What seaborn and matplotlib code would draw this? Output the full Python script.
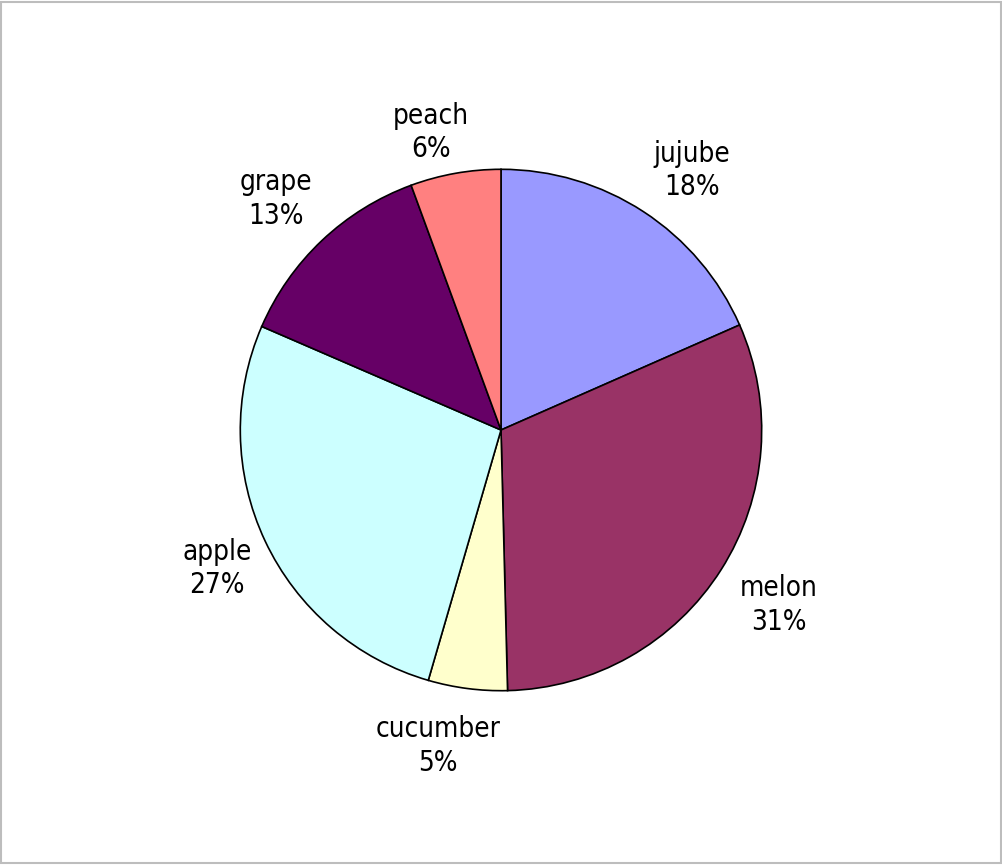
import matplotlib
matplotlib.use("Agg")
import matplotlib.pyplot as plt
from matplotlib.patches import Rectangle
import matplotlib.transforms as mtransforms
import seaborn as sns

sns.set_theme(style="white")
plt.rcParams['font.family'] = ['DejaVu Sans']

categories = ["jujube", "melon", "cucumber", "apple", "grape", "peach"]
values = [18.4, 31.2, 4.9, 27.0, 12.9, 5.6]
colors = ["#9999FF", "#993366", "#FFFFCC", "#CCFFFF", "#660066", "#FF8080"]

W, H = 1003, 865
fig = plt.figure(figsize=(W / 100, H / 100), dpi=100)
fig.patch.set_facecolor("white")

cx, cy, r = 501, 430, 262
ax = fig.add_axes([(cx - r) / W, (H - cy - r) / H, 2 * r / W, 2 * r / H])

total = sum(values)
labels = [f"{c}\n{v / total * 100:.0f}%" for c, v in zip(categories, values)]

wedges, texts = ax.pie(
    values,
    labels=labels,
    colors=colors,
    startangle=90,
    counterclock=False,
    radius=1.0,
    labeldistance=1.23,
    wedgeprops=dict(edgecolor="black", linewidth=1.2),
    textprops=dict(fontsize=20, color="black", fontstretch="condensed"),
)
# small label nudges (pixels: right, up) to mimic the reference placement
nudges = [(16, -9), (7, -3), (-22, 2), (6, -2), (-5, -2), (-14, -18)]
for t, (dx, dy) in zip(texts, nudges):
    t.set_horizontalalignment("center")
    t.set_verticalalignment("center")
    t.set_multialignment("center")
    t.set_linespacing(1.25)
    t.set_transform(t.get_transform() +
                    mtransforms.Affine2D().translate(dx, dy))

ax.set_xlim(-1.005, 1.005)
ax.set_ylim(-1.005, 1.005)
ax.set_aspect("equal")
ax.axis("off")

fig.patches.append(Rectangle((1 / W, 2 / H), (W - 3) / W, (H - 4) / H,
                             transform=fig.transFigure, fill=False,
                             edgecolor="#BDBDBD", linewidth=1.5))

fig.savefig("out.png", dpi=100, facecolor="white")
